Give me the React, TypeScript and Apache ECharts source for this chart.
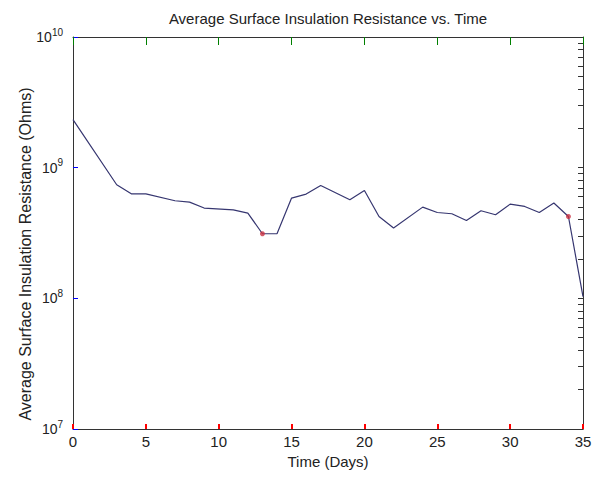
import React, { useEffect, useRef } from "react";
import * as echarts from "echarts";

const days = [0, 3, 4, 5, 7, 8, 9, 11, 12, 13, 14, 15, 16, 17, 19, 20, 21, 22, 24, 25, 26, 27, 28, 29, 30, 31, 32, 33, 34, 35];
const resistance = [
  2.33e9, 7.4e8, 6.31e8, 6.31e8, 5.58e8, 5.45e8, 4.91e8, 4.76e8, 4.49e8, 3.12e8,
  3.12e8, 5.85e8, 6.28e8, 7.31e8, 5.68e8, 6.69e8, 4.23e8, 3.45e8, 4.99e8, 4.54e8,
  4.44e8, 3.94e8, 4.68e8, 4.36e8, 5.26e8, 5.05e8, 4.54e8, 5.36e8, 4.23e8, 1.03e8,
];
const markerDays = [13, 34];
const yDecades = [1e7, 1e8, 1e9, 1e10];
const yMinorMultipliers = [1, 2, 3, 4, 5, 6, 7, 8, 9];

const TITLE = "Average Surface Insulation Resistance vs. Time";
const X_NAME = "Time (Days)";
const Y_NAME = "Average Surface Insulation Resistance (Ohms)";

export default function App() {
  const ref = useRef<HTMLDivElement>(null);
  useEffect(() => {
    if (!ref.current) return;
    const chart = echarts.init(ref.current, undefined, { renderer: "svg" });
    const font = "'Liberation Sans', Arial, sans-serif";
    const axisColor = "#333333";
    const textColor = "#222";
    const yTickValues: number[] = [];
    yDecades.forEach((d, i) => {
      if (i === yDecades.length - 1) {
        yTickValues.push(d);
      } else {
        yMinorMultipliers.forEach((m) => yTickValues.push(m * d));
      }
    });
    const lineData = days.map((d, i) => [d, resistance[i]]);
    const markerData = markerDays.map((d) => [d, resistance[days.indexOf(d)]]);

    chart.setOption({
      animation: false,
      backgroundColor: "#ffffff",
      grid: { left: 73, right: 18, top: 37, bottom: 51, containLabel: false },
      graphic: [
        {
          type: "text",
          x: 328,
          y: 11,
          style: { text: TITLE, font: `15px ${font}`, fill: textColor, textAlign: "center", textVerticalAlign: "top" },
        },
        {
          type: "text",
          x: 25,
          y: 254,
          rotation: Math.PI / 2,
          style: { text: Y_NAME, font: `16px ${font}`, fill: textColor, textAlign: "center", textVerticalAlign: "middle" },
        },
      ],
      xAxis: [
        {
          type: "value",
          min: 0,
          max: 35,
          interval: 5,
          position: "bottom",
          splitLine: { show: false },
          axisLine: { show: true, onZero: false, lineStyle: { color: axisColor } },
          axisTick: { show: true, inside: true, length: 5, lineStyle: { color: "red", width: 2 } },
          name: X_NAME,
          nameLocation: "middle",
          nameGap: 22,
          nameTextStyle: { fontFamily: font, fontSize: 15, color: textColor, verticalAlign: "top" },
          axisLabel: { show: true, margin: 5, fontFamily: font, fontSize: 15, color: textColor },
        },
        {
          type: "value",
          min: 0,
          max: 35,
          interval: 5,
          position: "top",
          splitLine: { show: false },
          axisLine: { show: true, onZero: false, lineStyle: { color: axisColor } },
          axisTick: { show: true, inside: true, length: 8, lineStyle: { color: "green", width: 1 } },
          axisLabel: { show: false },
        },
      ],
      yAxis: [
        {
          type: "log",
          logBase: 10,
          min: 1e7,
          max: 1e10,
          position: "left",
          splitLine: { show: false },
          axisLine: { show: true, onZero: false, lineStyle: { color: axisColor } },
          axisTick: { show: true, inside: true, length: 5, lineStyle: { color: "blue", width: 1 } },
          axisLabel: {
            show: true,
            margin: 10,
            formatter: (v: number) => `{b|10}{s|${Math.round(Math.log10(v))}}`,
            rich: {
              b: { fontFamily: font, fontSize: 14, color: textColor, lineHeight: 20 },
              s: { fontFamily: font, fontSize: 10, color: textColor, verticalAlign: "top", lineHeight: 11 },
            },
          },
        },
        {
          type: "log",
          logBase: 10,
          min: 1e7,
          max: 1e10,
          position: "right",
          splitLine: { show: false },
          axisLine: { show: true, onZero: false, lineStyle: { color: axisColor } },
          axisTick: { show: true, inside: true, length: 5, customValues: yTickValues, lineStyle: { color: axisColor } },
          axisLabel: { show: false },
        },
      ],
      series: [
        { type: "line", data: lineData, showSymbol: false, symbol: "none", lineStyle: { color: "#363670", width: 1.2 }, z: 2 },
        { type: "scatter", data: markerData, symbolSize: 5, itemStyle: { color: "#cc3344" }, z: 3 },
      ],
    });
    return () => chart.dispose();
  }, []);
  return <div ref={ref} style={{ position: "absolute", left: 0, top: 0, width: 601, height: 480, background: "#fff" }} />;
}
